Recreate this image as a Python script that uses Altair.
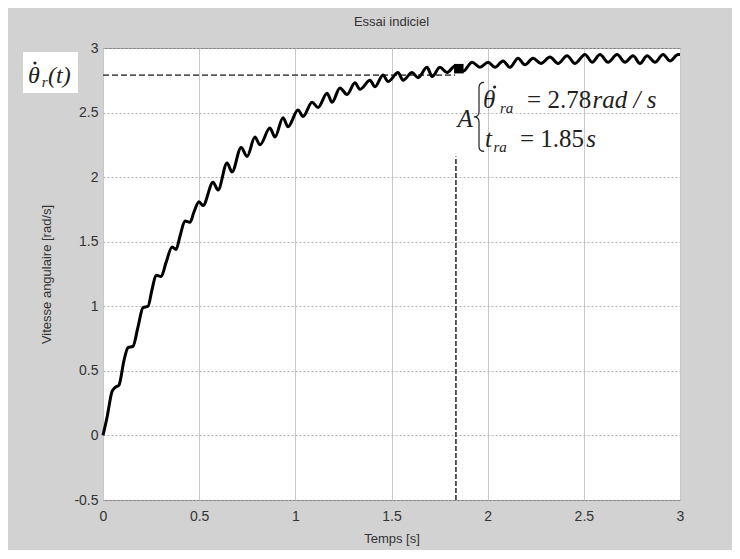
import altair as alt
import pandas as pd

# ---- data ----
t_s = [0.000, 0.021, 0.047, 0.062, 0.083, 0.109, 0.130, 0.156, 0.182, 0.208,
       0.234, 0.255, 0.276, 0.302, 0.328, 0.359, 0.380, 0.400, 0.426, 0.452,
       0.473, 0.499, 0.520, 0.572, 0.598, 0.645, 0.671, 0.718, 0.749, 0.790,
       0.816, 0.868, 0.894, 0.936, 0.962, 1.014, 1.040, 1.087, 1.118, 1.165,
       1.191, 1.232, 1.269, 1.310, 1.336, 1.388, 1.414, 1.456, 1.482, 1.534,
       1.560, 1.607, 1.638, 1.685, 1.711, 1.752, 1.789, 1.830, 1.872, 1.919,
       1.960, 2.002, 2.038, 2.080, 2.116, 2.158, 2.194, 2.236, 2.277, 2.324,
       2.366, 2.413, 2.454, 2.506, 2.543, 2.584, 2.626, 2.673, 2.714, 2.756,
       2.792, 2.829, 2.870, 2.912, 2.948, 2.990, 3.000]
v_rad = [0.00, 0.14, 0.34, 0.37, 0.39, 0.58, 0.68, 0.69, 0.84, 0.99,
         1.00, 1.13, 1.24, 1.23, 1.34, 1.46, 1.44, 1.54, 1.66, 1.65,
         1.73, 1.81, 1.78, 1.96, 1.90, 2.11, 2.04, 2.23, 2.16, 2.31,
         2.25, 2.38, 2.31, 2.46, 2.39, 2.52, 2.47, 2.58, 2.54, 2.65,
         2.58, 2.69, 2.64, 2.73, 2.68, 2.75, 2.70, 2.79, 2.74, 2.81,
         2.75, 2.81, 2.77, 2.85, 2.78, 2.85, 2.81, 2.86, 2.82, 2.89,
         2.85, 2.89, 2.85, 2.90, 2.85, 2.92, 2.87, 2.92, 2.88, 2.93,
         2.88, 2.94, 2.88, 2.95, 2.89, 2.95, 2.89, 2.95, 2.89, 2.94,
         2.88, 2.94, 2.89, 2.95, 2.90, 2.95, 2.95]

x_ticks = [0, 0.5, 1, 1.5, 2, 2.5, 3]
y_ticks = [-0.5, 0, 0.5, 1, 1.5, 2, 2.5, 3]

ref_level = 2.79      # dashed horizontal level
ref_level_end = 1.83  # where the horizontal dashed line stops
ref_time = 1.835      # dashed vertical line
ref_time_top = 2.16
point_t = [1.85]
point_v = [2.84]

SANS = "Liberation Sans"
SERIF = "Liberation Serif"
TXT = "#333333"

df = pd.DataFrame({"t": t_s, "v": v_rad})

xs = alt.Scale(domain=[0, 3], nice=False, zero=False)
ys = alt.Scale(domain=[-0.5, 3], nice=False, zero=False)

x_axis = alt.Axis(values=x_ticks, title="Temps [s]", labelExpr="'' + datum.value",
                  grid=True, gridColor="#c8c8c8", gridWidth=1, ticks=False, domain=False,
                  labelFont=SANS, labelFontSize=14, labelColor=TXT, labelPadding=9,
                  labelFlush=False, labelOverlap=False,
                  titleFont=SANS, titleFontSize=13, titleFontWeight="normal",
                  titleColor=TXT, titlePadding=9)
y_axis = alt.Axis(values=y_ticks, title="Vitesse angulaire [rad/s]", labelExpr="'' + datum.value",
                  grid=True, gridColor="#b0b0b0", gridDash=[2, 2], gridWidth=1, ticks=False,
                  domain=False, labelFont=SANS, labelFontSize=14, labelColor=TXT,
                  labelPadding=5, labelFlush=False, labelOverlap=False,
                  titleFont=SANS, titleFontSize=13, titleFontWeight="normal",
                  titleColor=TXT, titlePadding=20)

curve = alt.Chart(df).mark_line(color="black", strokeWidth=3, interpolate="monotone").encode(
    x=alt.X("t:Q", scale=xs, axis=x_axis),
    y=alt.Y("v:Q", scale=ys, axis=y_axis),
)

hline = alt.Chart(pd.DataFrame({"a": [0], "b": [ref_level_end], "v": [ref_level]})).mark_rule(
    color="#555555", strokeWidth=1.6, strokeDash=[6, 3]).encode(
    x=alt.X("a:Q", scale=xs), x2="b:Q", y=alt.Y("v:Q", scale=ys))

vline = alt.Chart(pd.DataFrame({"t": [ref_time], "lo": [-0.5], "hi": [ref_time_top]})).mark_rule(
    color="#333333", strokeWidth=1.6, strokeDash=[5, 2]).encode(
    x=alt.X("t:Q", scale=xs), y=alt.Y("lo:Q", scale=ys), y2="hi:Q")

marker = alt.Chart(pd.DataFrame({"t": point_t, "v": point_v})).mark_square(
    color="black", size=90, opacity=1).encode(
    x=alt.X("t:Q", scale=xs), y=alt.Y("v:Q", scale=ys))

# label box top-left
box = alt.Chart(pd.DataFrame({"a": [-0.416], "b": [-0.130], "c": [2.969], "d": [2.652]})).mark_rect(
    fill="white").encode(x=alt.X("a:Q", scale=xs), x2="b:Q", y=alt.Y("c:Q", scale=ys), y2="d:Q")

def txt(s, t, v, size, italic=True):
    return alt.Chart(pd.DataFrame({"t": [t], "v": [v], "s": [s]})).mark_text(
        font=SERIF, fontSize=size, fontStyle="italic" if italic else "normal",
        align="left", baseline="alphabetic", color="#222222").encode(
        x=alt.X("t:Q", scale=xs), y=alt.Y("v:Q", scale=ys), text="s:N")

ann = [
    txt("\u03b8", -0.390, 2.729, 24),
    txt("r", -0.318, 2.698, 15),
    txt("(t)", -0.286, 2.729, 24),
    txt("A", 1.843, 2.389, 25),
    txt("\u03b8", 1.976, 2.536, 25),
    txt("ra", 2.064, 2.497, 15),
    txt("= 2.78", 2.205, 2.536, 25, italic=False),
    txt("rad / s", 2.545, 2.536, 25),
    txt("t", 1.986, 2.234, 25),
    txt("ra", 2.030, 2.195, 15),
    txt("= 1.85", 2.168, 2.234, 25, italic=False),
    txt("s", 2.512, 2.234, 25),
]

# derivative dots above the thetas
dots = alt.Chart(pd.DataFrame({"t": [-0.354, 2.036], "v": [2.884, 2.698]})).mark_circle(
    color="#222222", size=10, opacity=1).encode(
    x=alt.X("t:Q", scale=xs), y=alt.Y("v:Q", scale=ys))

brace_path = "M 0.15 -1 Q 0 -1 0 -0.85 L 0 -0.15 Q 0 0 -0.15 0 Q 0 0 0 0.15 L 0 0.85 Q 0 1 0.15 1"
brace = alt.Chart(pd.DataFrame({"t": [1.955], "v": [2.466]})).mark_point(
    shape=brace_path, size=4761, filled=False, stroke="#222222", strokeWidth=1.2, opacity=1).encode(
    x=alt.X("t:Q", scale=xs), y=alt.Y("v:Q", scale=ys))

chart = alt.layer(hline, vline, curve, marker, box, brace, dots, *ann).properties(
    width=577, height=452,
    title=alt.TitleParams("Essai indiciel", font=SANS, fontSize=13, fontWeight="normal",
                          color=TXT, anchor="middle", offset=12),
    autosize=alt.AutoSizeParams(type="none"),
    padding={"left": 95, "top": 40, "right": 52, "bottom": 50},
).configure(background="#d2d2d2").configure_view(fill="white", stroke="#777777", strokeWidth=1)

chart.save("out.html", embed_options={"renderer": "svg", "actions": False})
